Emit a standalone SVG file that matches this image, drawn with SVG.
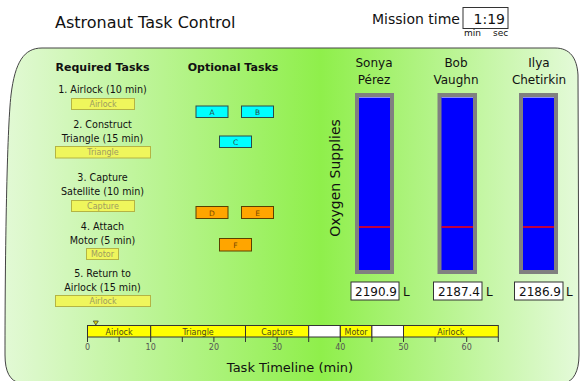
<svg xmlns="http://www.w3.org/2000/svg" width="582" height="381" viewBox="0 0 582 381">
<defs>
<linearGradient id="bg" gradientUnits="userSpaceOnUse" x1="5" y1="0" x2="579" y2="0">
<stop offset="0" stop-color="#e2f9d5"/>
<stop offset="0.55" stop-color="#8fef4b"/>
<stop offset="1" stop-color="#e4fad9"/>
</linearGradient>
<style>
text{font-family:"DejaVu Sans",Verdana,sans-serif;fill:#111}
.lbl{font-size:9.6px;text-anchor:middle}
.hdr{font-size:11px;font-weight:bold;text-anchor:middle}
.req rect{fill:#eff65c;stroke:#b4b444;stroke-width:1}
.req text{font-size:8px;fill:#9c9c62;text-anchor:middle}
.cy rect{fill:#00ffff;stroke:#2a4a4a;stroke-width:1}
.cy text{font-size:7.5px;fill:#2a4a4a;text-anchor:middle}
.or rect{fill:#ffa500;stroke:#5a4000;stroke-width:1}
.or text{font-size:7.5px;fill:#7a4a00;text-anchor:middle}
.name{font-size:12px;text-anchor:middle}
.bar{fill:#0000ff;stroke:#808080;stroke-width:4}
.lvl{stroke:#ff0000;stroke-width:1.5}
.top{stroke:#8c8cff;stroke-width:1}
.vbox{fill:#fff;stroke:#333;stroke-width:1}
.val{font-size:12px;text-anchor:middle}
.unit{font-size:12px}
.seg{fill:#ffff00;stroke:#333;stroke-width:1}
.gap{fill:#fff;stroke:#333;stroke-width:1}
.segt{font-size:8px;fill:#4a4a1a;text-anchor:middle}
.tick{stroke:#333;stroke-width:1}
.tl{font-size:8px;fill:#555;text-anchor:middle}
</style>
</defs>

<path id="panel" d="M 42 48 L 555 48 C 570 48 577 58 578 75 L 579 355 C 579 372 573 381 565 383 L 20 383 C 10 381 5 372 5 355 C 5 250 7 130 11 95 C 15 62 24 48 42 48 Z" fill="url(#bg)" stroke="#444" stroke-width="1"/>

<text x="55" y="28" style="font-size:16px">Astronaut Task Control</text>

<g id="mission-time">
<text x="372" y="24" style="font-size:14px">Mission time</text>
<rect x="463" y="7.5" width="45" height="21" fill="#fff" stroke="#333" stroke-width="1"/>
<text x="505" y="24" style="font-size:14px;text-anchor:end">1:19</text>
<text x="464" y="36" style="font-size:9px">min</text>
<text x="493" y="36" style="font-size:9px">sec</text>
</g>

<g id="required-tasks">
<text class="hdr" x="102.5" y="70.5">Required Tasks</text>
<text class="lbl" x="102.5" y="93">1. Airlock (10 min)</text>
<text class="lbl" x="102.5" y="128">2. Construct</text>
<text class="lbl" x="102.5" y="142">Triangle (15 min)</text>
<text class="lbl" x="102.5" y="181">3. Capture</text>
<text class="lbl" x="102.5" y="195">Satellite (10 min)</text>
<text class="lbl" x="102.5" y="230">4. Attach</text>
<text class="lbl" x="102.5" y="244">Motor (5 min)</text>
<text class="lbl" x="102.5" y="277">5. Return to</text>
<text class="lbl" x="102.5" y="291">Airlock (15 min)</text>
</g>
<g id="req-airlock1" class="req"><rect x="71.5" y="98.5" width="63" height="11"/><text x="103" y="106.5">Airlock</text></g>
<g id="req-triangle" class="req"><rect x="55.5" y="146.5" width="95" height="11.5"/><text x="103" y="155">Triangle</text></g>
<g id="req-capture" class="req"><rect x="71.5" y="200.5" width="63" height="11"/><text x="103" y="208.5">Capture</text></g>
<g id="req-motor" class="req"><rect x="86.5" y="248.5" width="32" height="11"/><text x="102.5" y="256.5">Motor</text></g>
<g id="req-airlock2" class="req"><rect x="55.5" y="295.5" width="95" height="11"/><text x="103" y="303.5">Airlock</text></g>

<text class="hdr" x="233" y="70.5">Optional Tasks</text>
<g id="opt-A" class="cy"><rect x="196" y="106" width="32" height="11.5"/><text x="212" y="114.5">A</text></g>
<g id="opt-B" class="cy"><rect x="241.5" y="106" width="32" height="11.5"/><text x="257.5" y="114.5">B</text></g>
<g id="opt-C" class="cy"><rect x="219.5" y="136" width="32" height="11.5"/><text x="235.5" y="144.5">C</text></g>
<g id="opt-D" class="or"><rect x="196" y="206.5" width="32" height="12"/><text x="212" y="215.5">D</text></g>
<g id="opt-E" class="or"><rect x="241.5" y="206.5" width="32" height="12"/><text x="257.5" y="215.5">E</text></g>
<g id="opt-F" class="or"><rect x="219.5" y="238.5" width="32" height="12.5"/><text x="235.5" y="248">F</text></g>

<text transform="translate(340,178) rotate(-90)" style="font-size:14px;text-anchor:middle">Oxygen Supplies</text>

<g id="astronaut-sonya">
<text class="name" x="374" y="67">Sonya</text>
<text class="name" x="374" y="84">Pérez</text>
<rect class="bar" x="357" y="95" width="35" height="177"/>
<line class="top" x1="359" y1="97.5" x2="390" y2="97.5"/>
<line class="lvl" x1="359" y1="227" x2="390" y2="227"/>
<rect class="vbox" x="351" y="282" width="48" height="18"/>
<text class="val" x="376" y="296">2190.9</text>
<text class="unit" x="403" y="296">L</text>
</g>
<g id="astronaut-bob">
<text class="name" x="456" y="67">Bob</text>
<text class="name" x="456" y="84">Vaughn</text>
<rect class="bar" x="439.5" y="95" width="35.5" height="177"/>
<line class="top" x1="441.5" y1="97.5" x2="473" y2="97.5"/>
<line class="lvl" x1="441.5" y1="227" x2="473" y2="227"/>
<rect class="vbox" x="433.5" y="282" width="48.5" height="18"/>
<text class="val" x="459" y="296">2187.4</text>
<text class="unit" x="486" y="296">L</text>
</g>
<g id="astronaut-ilya">
<text class="name" x="539" y="67">Ilya</text>
<text class="name" x="539" y="84">Chetirkin</text>
<rect class="bar" x="521" y="95" width="35" height="177"/>
<line class="top" x1="523" y1="97.5" x2="554" y2="97.5"/>
<line class="lvl" x1="523" y1="227" x2="554" y2="227"/>
<rect class="vbox" x="514.5" y="282" width="48.5" height="18"/>
<text class="val" x="540" y="296">2186.9</text>
<text class="unit" x="566" y="296">L</text>
</g>

<g id="timeline">
<g id="ticks">
<line class="tick" x1="87.5" y1="337" x2="87.5" y2="342"/>
<line class="tick" x1="119.1" y1="337" x2="119.1" y2="342"/>
<line class="tick" x1="150.7" y1="337" x2="150.7" y2="342"/>
<line class="tick" x1="182.3" y1="337" x2="182.3" y2="342"/>
<line class="tick" x1="213.9" y1="337" x2="213.9" y2="342"/>
<line class="tick" x1="245.5" y1="337" x2="245.5" y2="342"/>
<line class="tick" x1="277.1" y1="337" x2="277.1" y2="342"/>
<line class="tick" x1="308.7" y1="337" x2="308.7" y2="342"/>
<line class="tick" x1="340.3" y1="337" x2="340.3" y2="342"/>
<line class="tick" x1="371.9" y1="337" x2="371.9" y2="342"/>
<line class="tick" x1="403.5" y1="337" x2="403.5" y2="342"/>
<line class="tick" x1="435.1" y1="337" x2="435.1" y2="342"/>
<line class="tick" x1="466.7" y1="337" x2="466.7" y2="342"/>
<line class="tick" x1="498.3" y1="337" x2="498.3" y2="342"/>
</g>
<rect class="seg" x="87.5" y="325.5" width="63.2" height="11.5"/>
<rect class="seg" x="150.7" y="325.5" width="94.8" height="11.5"/>
<rect class="seg" x="245.5" y="325.5" width="63.2" height="11.5"/>
<rect class="gap" x="308.7" y="325.5" width="31.6" height="11.5"/>
<rect class="seg" x="340.3" y="325.5" width="31.6" height="11.5"/>
<rect class="gap" x="371.9" y="325.5" width="31.6" height="11.5"/>
<rect class="seg" x="403.5" y="325.5" width="94.8" height="11.5"/>
<text class="segt" x="119.1" y="334.5">Airlock</text>
<text class="segt" x="198.1" y="334.5">Triangle</text>
<text class="segt" x="277.1" y="334.5">Capture</text>
<text class="segt" x="356.1" y="334.5">Motor</text>
<text class="segt" x="450.9" y="334.5">Airlock</text>
<text class="tl" x="87.5" y="350">0</text>
<text class="tl" x="150.7" y="350">10</text>
<text class="tl" x="213.9" y="350">20</text>
<text class="tl" x="277.1" y="350">30</text>
<text class="tl" x="340.3" y="350">40</text>
<text class="tl" x="403.5" y="350">50</text>
<text class="tl" x="466.7" y="350">60</text>
<polygon points="93.3,321 98.3,321 95.8,325" fill="#d8d800" stroke="#444" stroke-width="0.8"/>
<text x="290" y="371.5" style="font-size:13px;text-anchor:middle">Task Timeline (min)</text>
</g>
</svg>
